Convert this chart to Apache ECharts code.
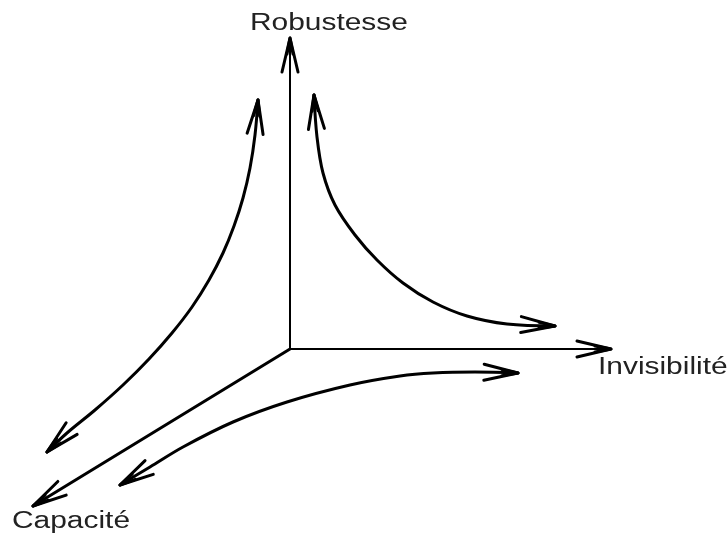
<!DOCTYPE html>
<html>
<head>
<meta charset="utf-8">
<script src="https://cdn.jsdelivr.net/npm/echarts@6/dist/echarts.min.js"></script>
<style>
  html, body { margin: 0; background: #fff; }
  #chart { width: 728px; height: 536px; }
</style>
</head>
<body>
<div id="chart"></div>
<script>
// diagram space = 728 x 536, y grows downward
const origin = [290, 349];
const axisTips = [[290, 38], [611, 349], [33, 506]];
const axisWidths = [2, 2, 3];

const labelNames = ['Robustesse', 'Invisibilité', 'Capacité'];
const labelAnchors = [[250, 24], [598, 368], [12, 522]];

// Robustesse <-> Capacité
const curveRC = [[258, 100], [255, 135], [250, 168], [243, 198], [234, 226], [223, 253],
  [209, 280], [192, 307], [172, 333], [149, 359], [123, 385], [95, 410], [67, 433], [47, 452]];
// Robustesse <-> Invisibilité
const curveRI = [[314, 95], [317, 137], [323, 173], [335, 205], [355, 235], [377, 260],
  [403, 283], [433, 302], [467, 316], [507, 324], [555, 326]];
// Invisibilité <-> Capacité
const curveIC = [[518, 373], [475, 372], [433, 373], [400, 376], [350, 385], [287, 402],
  [233, 422], [183, 447], [150, 467], [120, 485]];

function lineSeries(data, width, smooth) {
  return {
    type: 'line',
    data: data,
    smooth: smooth ? 0.35 : false,
    symbol: 'none',
    silent: true,
    clip: false,
    lineStyle: { color: '#000', width: width, cap: 'round', join: 'round' }
  }
}

// arrow head: long narrow chevron plus a thicker wedge near the tip
function head(tip, prev) {
  const dx = tip[0] - prev[0], dy = tip[1] - prev[1]
  const len = Math.hypot(dx, dy)
  const ux = dx / len, uy = dy / len
  const nx = -uy, ny = ux
  const L = 34, W = 8
  const b1 = [tip[0] - L * ux + W * nx, tip[1] - L * uy + W * ny]
  const b2 = [tip[0] - L * ux - W * nx, tip[1] - L * uy - W * ny]
  const i1 = [tip[0] - 16 * ux + 3 * nx, tip[1] - 16 * uy + 3 * ny]
  const i2 = [tip[0] - 16 * ux - 3 * nx, tip[1] - 16 * uy - 3 * ny]
  return [lineSeries([b1, tip, b2], 3, false), lineSeries([i1, tip, i2], 3, false)]
}

const series = []
axisTips.forEach((tip, i) => {
  series.push(lineSeries([origin, tip], axisWidths[i], false))
  series.push(...head(tip, origin))
})
;[curveRC, curveRI, curveIC].forEach(c => {
  series.push(lineSeries(c, 3, true))
  series.push(...head(c[0], c[1]))
  series.push(...head(c[c.length - 1], c[c.length - 2]))
})

const chart = echarts.init(document.getElementById('chart'))
chart.setOption({
  animation: false,
  backgroundColor: '#fff',
  grid: { left: 0, right: 0, top: 0, bottom: 0 },
  xAxis: { type: 'value', min: 0, max: 728, show: false },
  yAxis: { type: 'value', min: 0, max: 536, inverse: true, show: false },
  series: series
})

// axis names, stretched a little wider like the original bitmap font
chart.setOption({
  graphic: labelNames.map((name, i) => {
    const p = chart.convertToPixel({ gridIndex: 0 }, labelAnchors[i])
    return {
      type: 'text',
      x: p[0],
      y: p[1],
      scaleX: 1.3,
      silent: true,
      style: {
        text: name,
        fill: '#222',
        font: '23px "Liberation Sans", Arial, sans-serif',
        align: 'left',
        verticalAlign: 'middle'
      }
    }
  })
})
</script>
</body>
</html>
